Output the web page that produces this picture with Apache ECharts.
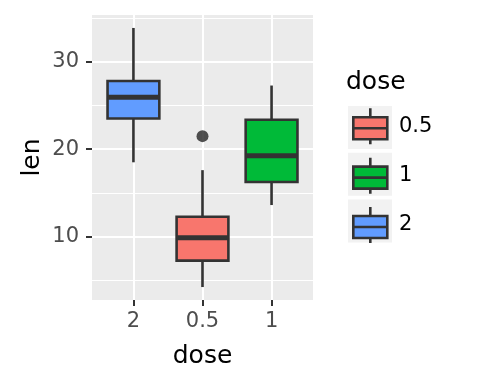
<!DOCTYPE html>
<html>
<head>
<meta charset="utf-8">
<script src="https://cdn.jsdelivr.net/npm/echarts@6/dist/echarts.min.js"></script>
<style>html,body{margin:0;padding:0;background:#fff;}#c{width:480px;height:384px;}</style>
</head>
<body>
<div id="c"></div>
<script>
// ---- data (ToothGrowth len by dose, x order as in reference) ----
const doseCats = ['2', '0.5', '1'];
const boxMin = [18.5, 4.2, 13.6];
const boxQ1 = [23.525, 7.225, 16.25];
const boxMedian = [25.95, 9.85, 19.25];
const boxQ3 = [27.825, 12.25, 23.375];
const boxMax = [33.9, 17.6, 27.3];
const outlierDose = ['0.5'];
const outlierLen = [21.5];
const yTickValues = [10, 20, 30];
const yMinorValues = [5, 15, 25, 35];
const legendOrder = ['0.5', '1', '2'];
const doseColors = { '0.5': '#F8766D', '1': '#00BA38', '2': '#619CFF' };

const FONT = 'DejaVu Sans';
const DARK = '#333333';

function renderBox(params, api) {
  const x = api.value(0);
  const lo = api.coord([x, api.value(1)]);
  const q1 = api.coord([x, api.value(2)]);
  const med = api.coord([x, api.value(3)]);
  const q3 = api.coord([x, api.value(4)]);
  const hi = api.coord([x, api.value(5)]);
  const bw = api.size([1, 0])[0] * 0.75;
  const cx = lo[0];
  const lineStyle = { stroke: DARK, lineWidth: 2.6 };
  return {
    type: 'group',
    children: [
      { type: 'line', shape: { x1: cx, y1: hi[1], x2: cx, y2: q3[1] }, style: lineStyle },
      { type: 'line', shape: { x1: cx, y1: q1[1], x2: cx, y2: lo[1] }, style: lineStyle },
      { type: 'rect', shape: { x: cx - bw / 2, y: q3[1], width: bw, height: q1[1] - q3[1] },
        style: { fill: api.visual('color'), stroke: DARK, lineWidth: 2.6 } },
      { type: 'line', shape: { x1: cx - bw / 2, y1: med[1], x2: cx + bw / 2, y2: med[1] },
        style: { stroke: DARK, lineWidth: 5 } }
    ]
  };
}

const boxSeries = doseCats.map(function (name, i) {
  return {
    type: 'custom',
    name: name,
    renderItem: renderBox,
    itemStyle: { color: doseColors[name] },
    encode: { x: 0, y: [1, 2, 3, 4, 5] },
    data: [[i, boxMin[i], boxQ1[i], boxMedian[i], boxQ3[i], boxMax[i]]],
    z: 3
  };
});

const outlierSeries = {
  type: 'scatter',
  name: 'outlier',
  symbolSize: 12,
  itemStyle: { color: '#262626' },
  data: outlierDose.map(function (d, k) { return [doseCats.indexOf(d), outlierLen[k]]; }),
  z: 4
};

const keyIcon = 'path://M17,0L17,9M0,9L34,9L34,31L0,31ZM0,20L34,20M17,31L17,36';

const chart = echarts.init(document.getElementById('c'), null, { renderer: 'canvas' });
chart.setOption({
  animation: false,
  backgroundColor: '#ffffff',
  title: [{
    text: 'dose', left: 346, top: 70, padding: 0,
    textStyle: { fontFamily: FONT, fontSize: 25, fontWeight: 'normal', color: '#000' }
  }],
  grid: {
    left: 92, right: 167, top: 15, bottom: 84,
    show: true, backgroundColor: '#EBEBEB', borderWidth: 0
  },
  xAxis: {
    type: 'value', min: -0.6, max: 2.6,
    name: 'dose', nameLocation: 'middle', nameGap: 44,
    nameTextStyle: { fontFamily: FONT, fontSize: 25, color: '#000' },
    axisLine: { show: false, onZero: false },
    axisTick: { show: true, length: 6, customValues: [0, 1, 2], lineStyle: { color: DARK, width: 2 } },
    axisLabel: {
      customValues: [0, 1, 2], margin: 11,
      fontFamily: FONT, fontSize: 21, color: '#4D4D4D',
      formatter: function (v) { return doseCats[Math.round(v)]; }
    },
    splitLine: { show: true, lineStyle: { color: '#ffffff', width: 2 } }
  },
  yAxis: [{
    type: 'value', min: 2.715, max: 35.385,
    name: 'len', nameLocation: 'middle', nameGap: 47,
    nameTextStyle: { fontFamily: FONT, fontSize: 25, color: '#000' },
    axisLine: { show: false, onZero: false },
    axisTick: { show: true, length: 6, customValues: yTickValues, lineStyle: { color: DARK, width: 2 } },
    axisLabel: {
      customValues: yTickValues, margin: 13,
      fontFamily: FONT, fontSize: 21, color: '#4D4D4D'
    },
    splitLine: { show: true, lineStyle: { color: '#ffffff', width: 2 } },
    z: 1
  }, {
    type: 'value', min: 2.715, max: 35.385, position: 'left',
    axisLine: { show: false, onZero: false },
    axisTick: { show: false, customValues: yMinorValues },
    axisLabel: { show: false, customValues: yMinorValues },
    splitLine: { show: true, lineStyle: { color: '#ffffff', width: 1 } },
    z: 0
  }],
  legend: [{
    orient: 'vertical', left: 348, top: 106, padding: 0,
    itemWidth: 44, itemHeight: 43, itemGap: 3.75,
    selectedMode: false, icon: 'rect',
    formatter: function () { return ''; },
    textStyle: { fontSize: 10 },
    data: legendOrder.map(function (n) {
      return { name: n, itemStyle: { color: '#F2F2F2', borderWidth: 0 } };
    })
  }, {
    orient: 'vertical', left: 352, top: 107, padding: 0,
    itemWidth: 34, itemHeight: 36, itemGap: 10.75,
    selectedMode: false,
    formatter: function (n) { return ' ' + n; },
    textStyle: { fontFamily: FONT, fontSize: 21, color: '#000' },
    data: legendOrder.map(function (n) {
      return { name: n, icon: keyIcon,
        itemStyle: { color: doseColors[n], borderColor: DARK, borderWidth: 2.6 } };
    })
  }],
  series: boxSeries.concat([outlierSeries])
});
</script>
</body>
</html>
